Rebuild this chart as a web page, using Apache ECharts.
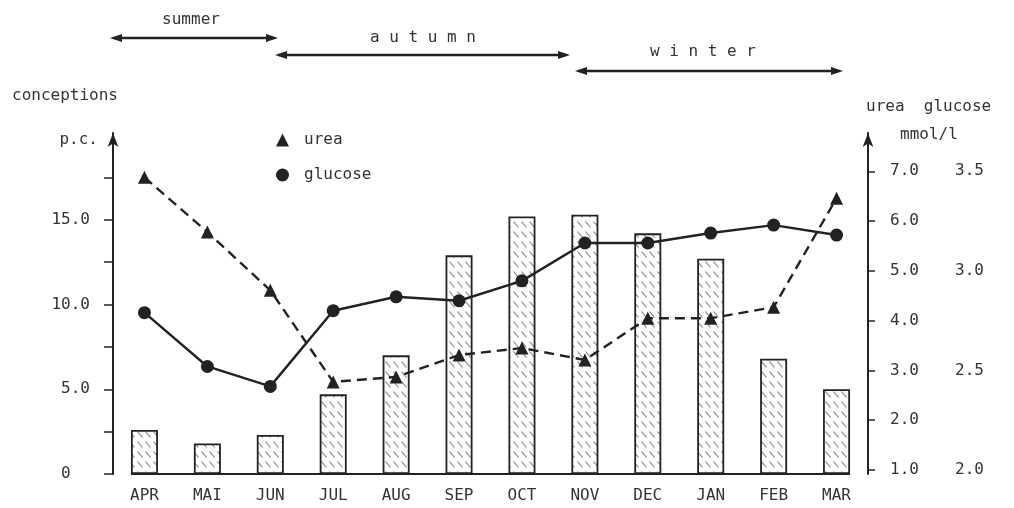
<!DOCTYPE html>
<html>
<head>
<meta charset="utf-8">
<script src="https://cdn.jsdelivr.net/npm/echarts@6/dist/echarts.min.js"></script>
<style>
html,body{margin:0;padding:0;background:#fff;}
#c{width:1014px;height:508px;}
</style>
</head>
<body>
<div id="c"></div>
<script>
// ---- data ----
const months = ['APR','MAI','JUN','JUL','AUG','SEP','OCT','NOV','DEC','JAN','FEB','MAR'];
const conceptions = [2.6, 1.8, 2.3, 4.7, 7.0, 12.9, 15.2, 15.3, 14.2, 12.7, 6.8, 5.0];
const urea = [6.88, 5.78, 4.61, 2.77, 2.87, 3.31, 3.45, 3.21, 4.05, 4.05, 4.27, 6.46];
const glucose = [2.79, 2.52, 2.42, 2.80, 2.87, 2.85, 2.95, 3.14, 3.14, 3.19, 3.23, 3.18];
const leftTicks = [0, 2.5, 5, 7.5, 10, 12.5, 15, 17.5];
const leftLabels = [0, 5, 10, 15];
const ureaTicks = [1, 2, 3, 4, 5, 6, 7];
const glucoseLabels = [2.0, 2.5, 3.0, 3.5];
const seasons = ['summer', 'a u t u m n', 'w i n t e r'];

const FONT = 'DejaVu Sans Mono';
const INK = '#222';
const TXT = '#333';

// hatch pattern for the bars
const pat = document.createElement('canvas');
pat.width = 8; pat.height = 10;
const pc = pat.getContext('2d');
pc.fillStyle = '#fff'; pc.fillRect(0, 0, 8, 10);
pc.strokeStyle = '#7a7a7a'; pc.lineWidth = 1.1;
pc.beginPath(); pc.moveTo(1.5, 1.5); pc.lineTo(6.5, 7.5); pc.stroke();

const chart = echarts.init(document.getElementById('c'), null, {renderer: 'canvas'});

const option = {
  animation: false,
  backgroundColor: '#fff',
  grid: {left: 113, right: 146, top: 133, bottom: 34, containLabel: false, outerBoundsMode: 'none'},
  legend: {
    orient: 'vertical', left: 276, top: 132, padding: 0,
    itemWidth: 13, itemHeight: 13, itemGap: 19,
    textStyle: {fontFamily: FONT, fontSize: 16, color: TXT, padding: [0, 0, 0, 10]},
    data: [{name: 'urea', icon: 'triangle'}, {name: 'glucose', icon: 'circle'}]
  },
  xAxis: {
    type: 'category', data: months,
    axisLine: {show: false}, axisTick: {show: false},
    axisLabel: {fontFamily: FONT, fontSize: 16, color: TXT, margin: 14}
  },
  yAxis: [
    {
      type: 'value', min: 0, max: 20.12, position: 'left',
      splitLine: {show: false},
      axisLine: {show: true, lineStyle: {color: INK, width: 2}, symbol: ['none', 'arrow'], symbolSize: [8, 14]},
      axisTick: {show: true, length: 9, lineStyle: {color: INK, width: 1.5}, customValues: leftTicks},
      axisLabel: {
        fontFamily: FONT, fontSize: 16, color: TXT, margin: 23, customValues: leftLabels,
        formatter: v => v === 0 ? '0\u00a0\u00a0' : v.toFixed(1)
      }
    },
    {
      type: 'value', min: 0.92, max: 7.77, position: 'right',
      splitLine: {show: false},
      axisLine: {show: true, lineStyle: {color: INK, width: 2}, symbol: ['none', 'arrow'], symbolSize: [8, 14]},
      axisTick: {show: true, length: 7, lineStyle: {color: INK, width: 1.5}, customValues: ureaTicks},
      axisLabel: {
        fontFamily: FONT, fontSize: 16, color: TXT, margin: 22, customValues: ureaTicks,
        formatter: v => v.toFixed(1)
      }
    },
    {
      type: 'value', min: 1.98, max: 3.6925, position: 'right',
      splitLine: {show: false},
      axisLine: {show: false}, axisTick: {show: false},
      axisLabel: {
        fontFamily: FONT, fontSize: 16, color: TXT, margin: 87, customValues: glucoseLabels,
        formatter: v => v.toFixed(1)
      }
    }
  ],
  series: [
    {
      name: 'conceptions', type: 'bar', yAxisIndex: 0, data: conceptions, barWidth: 27, z: 1,
      itemStyle: {color: {image: pat, repeat: 'repeat'}, borderColor: INK, borderWidth: 1.8}
    },
    {
      name: 'urea', type: 'line', yAxisIndex: 1, data: urea, z: 3,
      symbol: 'triangle', symbolSize: 13,
      lineStyle: {color: INK, width: 2.4, type: [10, 6]},
      itemStyle: {color: INK}
    },
    {
      name: 'glucose', type: 'line', yAxisIndex: 2, data: glucose, z: 4,
      symbol: 'circle', symbolSize: 13,
      lineStyle: {color: INK, width: 2.4},
      itemStyle: {color: INK}
    }
  ]
};
chart.setOption(option);

// baseline under the bars, from the first bar's left edge to the last bar's right edge
const half = 13.5;
const bx0 = chart.convertToPixel({xAxisIndex: 0}, 0) - half;
const bx1 = chart.convertToPixel({xAxisIndex: 0}, months.length - 1) + half;
const by = chart.convertToPixel({yAxisIndex: 0}, 0);

function dblArrow(x0, x1, y) {
  return {
    type: 'group', children: [
      {type: 'line', shape: {x1: x0 + 4, y1: y, x2: x1 - 4, y2: y}, style: {stroke: INK, lineWidth: 2.6}},
      {type: 'polygon', shape: {points: [[x0, y], [x0 + 12, y - 4], [x0 + 12, y + 4]]}, style: {fill: INK}},
      {type: 'polygon', shape: {points: [[x1, y], [x1 - 12, y - 4], [x1 - 12, y + 4]]}, style: {fill: INK}}
    ]
  };
}
const txt = (text, x, y, align) => ({
  type: 'text', x: x, y: y,
  style: {text: text, fill: TXT, font: '16px "' + FONT + '"', textAlign: align || 'left', textVerticalAlign: 'middle'}
});

chart.setOption({
  graphic: [
    {type: 'line', shape: {x1: bx0, y1: by, x2: bx1, y2: by}, style: {stroke: INK, lineWidth: 2}},
    dblArrow(110, 278, 38),
    dblArrow(275, 570, 55),
    dblArrow(575, 843, 71),
    txt(seasons[0], 191, 20, 'center'),
    txt(seasons[1], 423, 38, 'center'),
    txt(seasons[2], 703, 52, 'center'),
    txt('conceptions', 12, 96),
    txt('p.c.', 98, 140, 'right'),
    txt('urea  glucose', 866, 107),
    txt('mmol/l', 900, 135)
  ]
});
</script>
</body>
</html>
